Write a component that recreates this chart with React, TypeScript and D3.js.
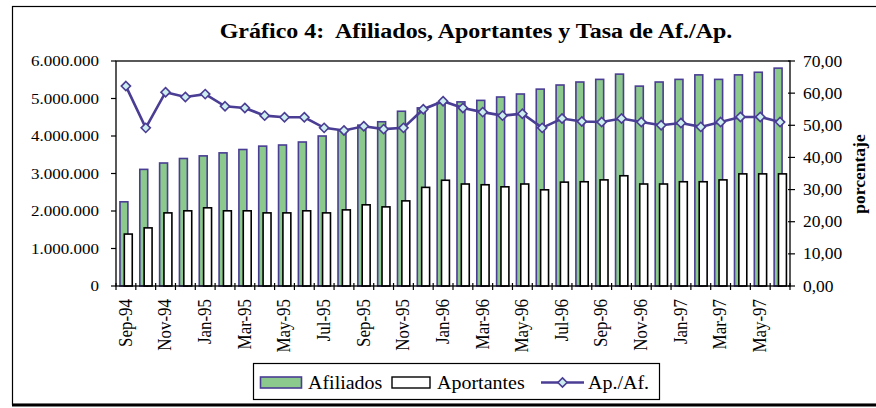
import React from "react";
import * as d3 from "d3";

// Afiliados / Aportantes (personas) y tasa Ap./Af. (%), sep-94 a jun-97
const months = [
  "Sep-94", "Oct-94", "Nov-94", "Dec-94", "Jan-95", "Feb-95", "Mar-95", "Apr-95",
  "May-95", "Jun-95", "Jul-95", "Aug-95", "Sep-95", "Oct-95", "Nov-95", "Dec-95",
  "Jan-96", "Feb-96", "Mar-96", "Apr-96", "May-96", "Jun-96", "Jul-96", "Aug-96",
  "Sep-96", "Oct-96", "Nov-96", "Dec-96", "Jan-97", "Feb-97", "Mar-97", "Apr-97",
  "May-97", "Jun-97",
];
const afiliados = [
  2245000, 3110000, 3280000, 3400000, 3470000, 3550000, 3640000, 3730000,
  3760000, 3840000, 4000000, 4150000, 4290000, 4380000, 4660000, 4750000,
  4890000, 4910000, 4950000, 5040000, 5120000, 5250000, 5360000, 5440000,
  5510000, 5650000, 5330000, 5440000, 5510000, 5630000, 5510000, 5630000,
  5700000, 5810000,
];
const aportantes = [
  1385000, 1550000, 1950000, 2005000, 2085000, 2005000, 2005000, 1950000,
  1950000, 2005000, 1950000, 2030000, 2165000, 2110000, 2270000, 2630000,
  2820000, 2720000, 2700000, 2645000, 2720000, 2565000, 2770000, 2780000,
  2830000, 2940000, 2720000, 2720000, 2780000, 2780000, 2830000, 2990000,
  2990000, 2990000,
];
const tasa = [
  62.2, 49.2, 60.3, 58.8, 59.7, 55.9, 55.4, 53.0, 52.5, 52.5, 49.2, 48.4,
  49.7, 48.8, 49.2, 55.0, 57.5, 55.4, 54.1, 53.0, 53.6, 49.2, 52.1, 51.2,
  51.0, 52.1, 51.0, 50.0, 50.7, 49.5, 51.0, 52.6, 52.6, 51.0,
];
const leftTicks = [0, 1000000, 2000000, 3000000, 4000000, 5000000, 6000000];
const rightTicks = [0, 10, 20, 30, 40, 50, 60, 70];

const W = 876;
const H = 408;
const plot = { left: 116, right: 790, top: 61, bottom: 286 };
const FONT = "'Liberation Serif', 'Times New Roman', serif";
const GREEN = "#8cc98c";
const PURPLE = "#4a3d94";
const MARKER = "#cdeeee";

const es = d3.formatLocale({ decimal: ",", thousands: ".", grouping: [3], currency: ["", ""] });
const fmtLeft = es.format(",d");
const fmtRight = es.format(".2f");

// text squeezed vertically like the source picture
function Txt({ x, y, sy = 0.9, rot = false, children, ...rest }: any) {
  const t = `translate(${x},${y}) scale(1,${sy})${rot ? " rotate(-90)" : ""}`;
  return (
    <text transform={t} fontFamily={FONT} fill="#000" {...rest}>
      {children}
    </text>
  );
}

const diamond = (cx: number, cy: number, r: number) =>
  `M${cx},${cy - r}L${cx + r},${cy}L${cx},${cy + r}L${cx - r},${cy}Z`;

export default function App() {
  const x = d3.scaleBand().domain(months).range([plot.left, plot.right]).paddingInner(0).paddingOuter(0);
  const yL = d3.scaleLinear().domain([0, 6000000]).range([plot.bottom, plot.top]);
  const yR = d3.scaleLinear().domain([0, 70]).range([plot.bottom, plot.top]);
  const bw = x.bandwidth();
  const barW = bw * 0.4;
  const cx = (m: string) => (x(m) as number) + bw / 2;

  const line = d3
    .line<number>()
    .x((_, i) => cx(months[i]))
    .y((d) => yR(d));

  const boundaries = d3.range(months.length + 1).map((i) => plot.left + i * bw);

  return (
    <svg width={W} height={H} style={{ position: "absolute", left: 0, top: 0, background: "#fff" }}>
      <rect x={0} y={0} width={W} height={H} fill="#fff" />
      {/* outer frame */}
      <rect x={12.5} y={6.5} width={880} height={398} fill="none" stroke="#000" strokeWidth={1.2} />
      <line x1={12} x2={W} y1={405} y2={405} stroke="#000" strokeWidth={3} />

      <Txt x={476} y={37.5} textAnchor="middle" fontSize={24} fontWeight="bold" style={{ whiteSpace: "pre" }}>
        {"Gráfico 4:  Afiliados, Aportantes y Tasa de Af./Ap."}
      </Txt>

      {/* bars */}
      {months.map((m, i) => (
        <g key={m}>
          <rect
            x={cx(m) - bw * 0.3}
            y={yL(afiliados[i])}
            width={barW}
            height={plot.bottom - yL(afiliados[i])}
            fill={GREEN}
            stroke={PURPLE}
            strokeWidth={1.6}
          />
          <rect
            x={cx(m) - bw * 0.08}
            y={yL(aportantes[i])}
            width={barW}
            height={plot.bottom - yL(aportantes[i])}
            fill="#fff"
            stroke="#000"
            strokeWidth={1.6}
          />
        </g>
      ))}

      {/* plot box */}
      <rect
        x={plot.left}
        y={plot.top}
        width={plot.right - plot.left}
        height={plot.bottom - plot.top}
        fill="none"
        stroke="#000"
        strokeWidth={1.3}
      />

      {/* line series */}
      <path d={line(tasa) || ""} fill="none" stroke={PURPLE} strokeWidth={2.6} />
      {tasa.map((v, i) => (
        <path key={i} d={diamond(cx(months[i]), yR(v), 4.6)} fill={MARKER} stroke={PURPLE} strokeWidth={1.6} />
      ))}

      {/* left axis */}
      {leftTicks.map((t) => (
        <g key={t}>
          <line x1={plot.left - 5} x2={plot.left} y1={yL(t)} y2={yL(t)} stroke="#000" strokeWidth={1.2} />
          <Txt x={99} y={yL(t) + 5} textAnchor="end" fontSize={17}>
            {fmtLeft(t)}
          </Txt>
        </g>
      ))}

      {/* right axis */}
      {rightTicks.map((t) => (
        <g key={t}>
          <line x1={plot.right - 2} x2={plot.right + 5} y1={yR(t)} y2={yR(t)} stroke="#000" strokeWidth={1.2} />
          <Txt x={803} y={yR(t) + 5.5} textAnchor="start" fontSize={17.5}>
            {fmtRight(t)}
          </Txt>
        </g>
      ))}
      <Txt x={865} y={174} sy={1} rot textAnchor="middle" fontSize={17.5} fontWeight="bold">
        porcentaje
      </Txt>

      {/* x axis */}
      {boundaries.map((b, i) => (
        <line key={i} x1={b} x2={b} y1={plot.bottom - 3} y2={plot.bottom + 4} stroke="#000" strokeWidth={1.2} />
      ))}
      {months.map((m, i) =>
        i % 2 === 0 ? (
          <Txt key={m} x={cx(m) + 5.8} y={299} rot textAnchor="end" fontSize={18.8}>
            {m}
          </Txt>
        ) : null
      )}

      {/* legend */}
      <rect x={253.5} y={363.5} width={406} height={36} fill="#fff" stroke="#000" strokeWidth={1.2} />
      <rect x={260.5} y={377} width={41} height={11} fill={GREEN} stroke={PURPLE} strokeWidth={1.6} />
      <Txt x={308} y={388.5} fontSize={20}>Afiliados</Txt>
      <rect x={392} y={377} width={38} height={11} fill="#fff" stroke="#000" strokeWidth={1.4} />
      <Txt x={437} y={388.5} fontSize={20}>Aportantes</Txt>
      <line x1={541} x2={584} y1={382.5} y2={382.5} stroke={PURPLE} strokeWidth={2.6} />
      <path d={diamond(562.5, 382.5, 4.6)} fill={MARKER} stroke={PURPLE} strokeWidth={1.6} />
      <Txt x={588} y={388.5} fontSize={20}>Ap./Af.</Txt>
    </svg>
  );
}
